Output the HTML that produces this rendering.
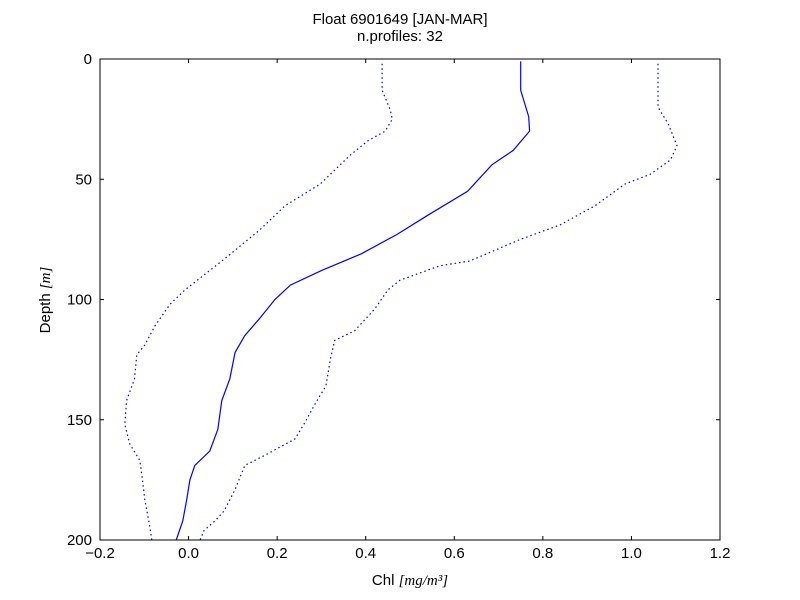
<!DOCTYPE html>
<html><head><meta charset="utf-8"><style>
body{margin:0;background:#fff;}
svg{display:block;font-family:"Liberation Sans",sans-serif;}
</style></head><body>
<svg id="chart" width="800" height="600">
<rect width="800" height="600" fill="#fff"/>
<text x="400" y="24" text-anchor="middle" font-size="15">Float 6901649 [JAN-MAR]</text>
<text x="400" y="41" text-anchor="middle" font-size="15">n.profiles: 32</text>
<text x="410" y="585" text-anchor="middle" font-size="15">Chl <tspan font-family="Liberation Serif" font-style="italic">[mg/m³]</tspan></text>
<text transform="translate(50,300) rotate(-90)" text-anchor="middle" font-size="15">Depth <tspan font-family="Liberation Serif" font-style="italic">[m]</tspan></text>
<g id="ticks"></g>
<g id="series"></g>
<rect x="100" y="59" width="620" height="481" fill="none" stroke="#000" stroke-width="1"/>
</svg>
<script>
const meanChl=[0.75,0.75,0.768,0.77,0.733,0.685,0.63,0.54,0.47,0.39,0.30,0.23,0.195,0.16,0.127,0.105,0.093,0.075,0.066,0.048,0.014,0.003,-0.004,-0.013,-0.028];
const meanDepth=[1,13,24,30,38,44,55,65,73,81,88,94,100,108,115,122,133,142,154,163,169,175,183,192,200];
const lowChl=[0.437,0.437,0.455,0.46,0.444,0.405,0.365,0.297,0.218,0.161,0.082,-0.008,-0.042,-0.076,-0.099,-0.117,-0.122,-0.14,-0.144,-0.133,-0.11,-0.104,-0.099,-0.088,-0.083];
const lowDepth=[2,13,21,25,30,34,40,52,61,71,83,96,102,111,119,123,133,142,152,160,167,175,183,194,200];
const highChl=[1.06,1.06,1.083,1.103,1.088,1.042,0.985,0.918,0.839,0.749,0.635,0.567,0.477,0.45,0.42,0.375,0.33,0.32,0.31,0.29,0.26,0.24,0.17,0.127,0.105,0.08,0.06,0.035,0.026];
const highDepth=[2,20,27,36,42,48,52,61,69,75,84,86,92,96,104,113,117,125,136,142,152,158,165,169,179,188,192,196,200];
const xTicks=[-0.2,0.0,0.2,0.4,0.6,0.8,1.0,1.2];
const yTicks=[0,50,100,150,200];
const X0=100,X1=720,Y0=59,Y1=540;
const xs=v=>X0+(v-(-0.2))/1.4*(X1-X0);
const ys=d=>Y0+d/200*(Y1-Y0);
const NS="http://www.w3.org/2000/svg";
const tg=document.getElementById('ticks');
xTicks.forEach(t=>{
  const x=xs(t);
  [[Y1,Y1-4],[Y0,Y0+4]].forEach(([a,b])=>{
    const l=document.createElementNS(NS,'line');
    l.setAttribute('x1',x);l.setAttribute('x2',x);l.setAttribute('y1',a);l.setAttribute('y2',b);
    l.setAttribute('stroke','#000');
    
    
    tg.appendChild(l);
  });
  const tx=document.createElementNS(NS,'text');
  tx.setAttribute('x',x);tx.setAttribute('y',Y1+18);tx.setAttribute('text-anchor','middle');tx.setAttribute('font-size','15');
  tx.textContent=(t<0?'\u2212':'')+Math.abs(t).toFixed(1);
  
  
  tg.appendChild(tx);
});
yTicks.forEach(t=>{
  const y=ys(t);
  [[X0,X0+4],[X1,X1-4]].forEach(([a,b])=>{
    const l=document.createElementNS(NS,'line');
    l.setAttribute('x1',a);l.setAttribute('x2',b);l.setAttribute('y1',y);l.setAttribute('y2',y);
    l.setAttribute('stroke','#000');
    
    
    tg.appendChild(l);
  });
  const tx=document.createElementNS(NS,'text');
  tx.setAttribute('x',X0-8);tx.setAttribute('y',y+5);tx.setAttribute('text-anchor','end');tx.setAttribute('font-size','15');
  tx.textContent=String(t);
  
  
  tg.appendChild(tx);
});
const sg=document.getElementById('series');
function line(cx,dy,dash,name){
  const p=document.createElementNS(NS,'polyline');
  p.setAttribute('points',cx.map((v,i)=>xs(v).toFixed(1)+','+ys(dy[i]).toFixed(1)).join(' '));
  p.setAttribute('fill','none');p.setAttribute('stroke','#0000ff');p.setAttribute('stroke-width','1.2');
  if(dash)p.setAttribute('stroke-dasharray','1.5,3');
  
  
  sg.appendChild(p);
}
line(lowChl,lowDepth,true,'lower-bound-line');
line(highChl,highDepth,true,'upper-bound-line');
line(meanChl,meanDepth,false,'mean-chl-line');
</script>
</body></html>
